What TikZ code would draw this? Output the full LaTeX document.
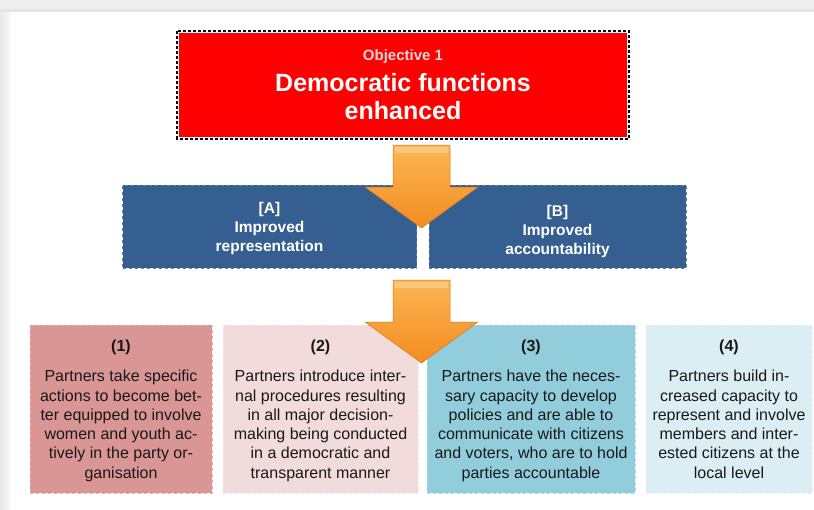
\documentclass[tikz,border=0pt]{standalone}
\usepackage{fontspec}
\setmainfont{Liberation Sans}
\usetikzlibrary{positioning,calc}
\definecolor{objred}{RGB}{255,0,0}
\definecolor{resblue}{RGB}{54,95,145}
\definecolor{outrose}{RGB}{217,150,148}
\definecolor{outpink}{RGB}{242,219,219}
\definecolor{outteal}{RGB}{146,205,220}
\definecolor{outice}{RGB}{219,238,243}
\definecolor{arrowlight}{RGB}{252,182,84}
\definecolor{arrowdark}{RGB}{242,140,32}
\definecolor{arrowedge}{RGB}{214,120,24}
\definecolor{framegray}{RGB}{239,239,239}

\begin{document}
\begin{tikzpicture}[x=1pt, y=-1pt,
    objbox/.style={fill=objred, minimum width=450pt, minimum height=106pt, inner sep=0pt,
        text=white, align=center, font=\bfseries\fontsize{25}{28}\selectfont},
    resbox/.style={fill=resblue, draw=resblue!80!white, dashed, line width=0.8pt,
        minimum height=83pt, inner sep=0pt},
    restext/.style={inner sep=0pt, text=white, align=center,
        font=\bfseries\fontsize{15.5}{19}\selectfont},
    outbox/.style={fill=#1, draw=#1!75!white, dashed, line width=0.8pt,
        minimum height=168pt, inner sep=0pt},
    outtext/.style={inner sep=0pt, align=center, text=black!90,
        font=\fontsize{16}{19.3}\selectfont}
]
    \useasboundingbox (0,0) rectangle (814,509);
    % Window frame
    \fill[framegray] (0,0) rectangle (814,12);
    \fill[black!10] (0,9) rectangle (814,12);
    \shade[left color=black!9, right color=black!3] (0,12) rectangle (10,509);

    % Objective
    \node[objbox, draw=white, line width=1.6pt] (obj) at (403,85)
        {{\fontsize{15}{18}\selectfont\color{black!15}Objective 1}\\[3pt]
         Democratic functions\\ enhanced};
    \draw[black, line width=1.6pt, dash pattern=on 3pt off 2pt]
        (obj.north west) rectangle (obj.south east);

    % Results
    \node[resbox, minimum width=294pt] (resA) at (269.5,226.5) {};
    \node[resbox, minimum width=257pt] (resB) at (557.5,226.5) {};
    \node[restext, below=17pt of resA.north] (resAtext) {[A]\\ Improved\\ representation};
    \node[restext, below=20pt of resB.north] (resBtext) {[B]\\ Improved\\ accountability};

    % Outputs
    \node[outbox=outrose, minimum width=182pt] (out1) at (121,409) {};
    \node[outbox=outpink, minimum width=195pt] (out2) at (320.5,409) {};
    \node[outbox=outteal, minimum width=208pt] (out3) at (531,409) {};
    \node[outbox=outice, minimum width=166pt] (out4) at (729,409) {};
    \node[outtext, below=15pt of out1.north] (out1text)
        {\textbf{(1)}\\[11pt] Partners take specific\\ actions to become bet-\\
         ter equipped to involve\\ women and youth ac-\\ tively in the party or-\\ ganisation};
    \node[outtext, below=15pt of out2.north] (out2text)
        {\textbf{(2)}\\[11pt] Partners introduce inter-\\ nal procedures resulting\\
         in all major decision-\\ making being conducted\\ in a democratic and\\ transparent manner};
    \node[outtext, below=15pt of out3.north] (out3text)
        {\textbf{(3)}\\[11pt] Partners have the neces-\\ sary capacity to develop\\
         policies and are able to\\ communicate with citizens\\ and voters, who are to hold\\ parties accountable};
    \node[outtext, below=15pt of out4.north] (out4text)
        {\textbf{(4)}\\[11pt] Partners build in-\\ creased capacity to\\
         represent and involve\\ members and inter-\\ ested citizens at the\\ local level};

    % Block arrows
    \foreach \ay in {145,280} {
        \shade[top color=arrowlight, bottom color=arrowdark, draw=arrowedge,
               line width=0.5pt, line join=round]
            (393,\ay) -- (450,\ay) -- (450,\ay+42) -- (478,\ay+42) -- (421.5,\ay+83)
            -- (365,\ay+42) -- (393,\ay+42) -- cycle;
        \fill[white, opacity=0.25] (395,\ay+1.5) rectangle (448,\ay+8);
    }
\end{tikzpicture}
\end{document}
